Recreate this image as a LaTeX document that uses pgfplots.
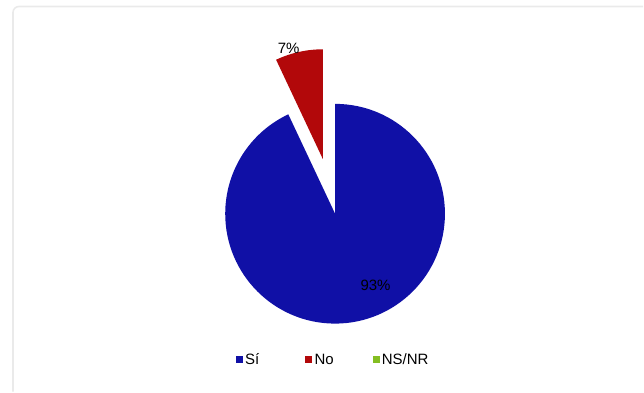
\documentclass[border=0pt]{standalone}
\usepackage{fontspec}
\setmainfont{Liberation Sans}
\usepackage{pgfplots}
\usepackage{pgfplotstable}
\pgfplotsset{compat=1.18}
\definecolor{pieblue}{RGB}{16,16,166}
\definecolor{piered}{RGB}{178,8,10}
\definecolor{piegreen}{RGB}{132,190,34}
\definecolor{framegray}{RGB}{234,234,234}
\pgfplotstableread{
label value
Si 93
No 7
NSNR 0
}\piedata
\begin{document}
\begin{tikzpicture}
\pgfplotstablegetelem{0}{value}\of\piedata \global\let\vA\pgfplotsretval
\pgfplotstablegetelem{1}{value}\of\piedata \global\let\vB\pgfplotsretval
\pgfmathsetmacro\aEnd{90-3.6*\vA}
\pgfmathsetmacro\bStart{\aEnd+360}
\pgfmathsetmacro\bEnd{\bStart-3.6*\vB}
\pgfmathsetmacro\bMid{(\bStart+\bEnd)/2}
\begin{axis}[
  scale only axis, width=322pt, height=196pt,
  xmin=0, xmax=644, ymin=0, ymax=392,
  hide axis, clip=false,
]
\path (axis cs:0,0) rectangle (axis cs:644,392);
% frame
\draw[framegray, line width=0.8pt, rounded corners=3pt] (axis cs:13,0) -- (axis cs:13,385.5) -- (axis cs:644,385.5);
% Si slice
\fill[pieblue] (axis cs:335.5,178) -- ++(90:55pt) arc[start angle=90, end angle=\aEnd, radius=55pt] -- cycle;
% No slice (exploded)
\fill[piered] ([shift={(\bMid:28pt)}]axis cs:335.5,178) -- ++(\bStart:55pt) arc[start angle=\bStart, end angle=\bEnd, radius=55pt] -- cycle;
% labels
\node[font=\fontsize{7.5}{9}\selectfont, text=black] at (axis cs:376,106) {\vA\%};
\node[font=\fontsize{7.5}{9}\selectfont, text=black] at (axis cs:289,344) {\vB\%};
% legend
\fill[pieblue] (axis cs:236,28.5) rectangle (axis cs:243,35.5);
\node[anchor=west, inner sep=0pt, font=\fontsize{7.5}{9}\selectfont] at (axis cs:245,32) {Sí};
\fill[piered] (axis cs:305.5,28.5) rectangle (axis cs:312.5,35.5);
\node[anchor=west, inner sep=0pt, font=\fontsize{7.5}{9}\selectfont] at (axis cs:314.5,32) {No};
\fill[piegreen] (axis cs:373,28.5) rectangle (axis cs:380,35.5);
\node[anchor=west, inner sep=0pt, font=\fontsize{7.5}{9}\selectfont] at (axis cs:382,32) {NS/NR};
\end{axis}
\end{tikzpicture}
\end{document}
